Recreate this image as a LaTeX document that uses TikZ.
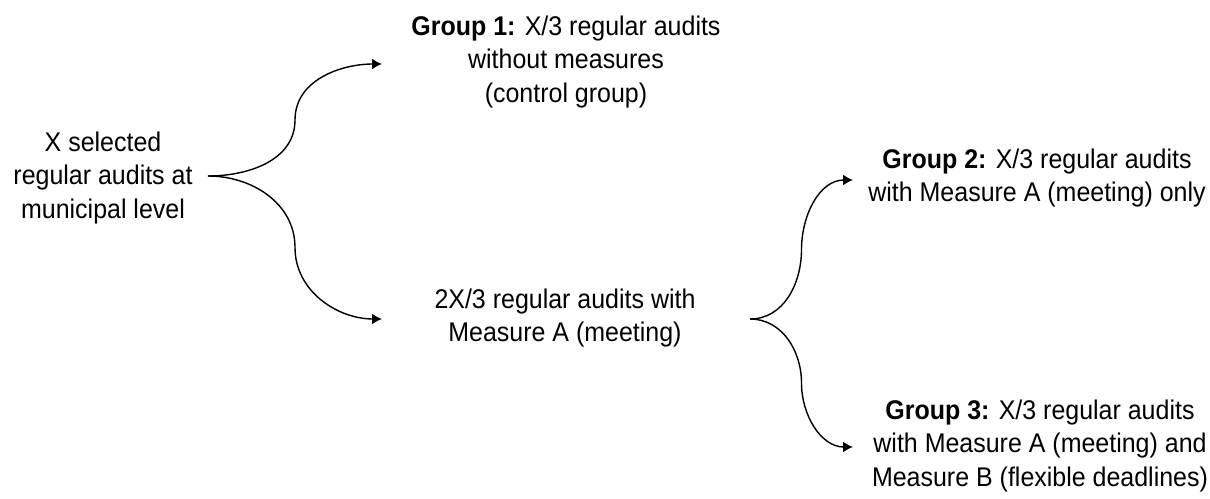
\documentclass[tikz,border=0pt]{standalone}
\usepackage{fontspec}
\setmainfont{Liberation Sans}[FakeStretch=0.925]
\usetikzlibrary{calc,arrows.meta}
\begin{document}
\begin{tikzpicture}[x=0.025cm,y=-0.025cm,
	txt/.style={align=center,font=\fontsize{19.2}{24}\selectfont,inner sep=0pt},
	arr/.style={line width=1pt,-{Latex[length=7pt,width=7.5pt]}}]

		\useasboundingbox (0,0) rectangle (1210,499);

		\node[txt] (S) at (103,178) {X selected\\regular audits at\\municipal level};
		\node[txt] (G1) at (566,62) {\textbf{Group 1:} X/3 regular audits\\without measures\\(control group)};
		\node[txt] (M) at (565,318) {2X/3 regular audits with\\Measure A (meeting)};
		\node[txt] (G2) at (1037,178) {\textbf{Group 2:} X/3 regular audits\\with Measure A (meeting) only};
		\node[txt] (G3) at (1040,446) {\textbf{Group 3:} X/3 regular audits\\with Measure A (meeting) and\\Measure B (flexible deadlines)};

		\coordinate (s1) at (208,176);
		\coordinate (s2) at (750,319);
		\coordinate (t1) at (382,64);
		\coordinate (t2) at (382,319);
		\coordinate (t3) at (853,180);
		\coordinate (t4) at (853,447);

		\foreach \source/\dest/\a/\b in {s1/t1/90/-90, s1/t2/-90/90, s2/t3/90/-90, s2/t4/-90/90}
		\draw[arr] (\source) to[out=0,in=\b] ($(\source)!0.5!(\dest)$) to[out=\a,in=180] (\dest);

	\end{tikzpicture}
\end{document}
